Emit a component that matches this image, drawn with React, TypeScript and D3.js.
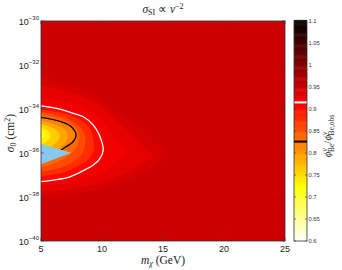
import React from "react";
import * as d3 from "d3";

// ---- data (m in GeV, log10 sigma in cm^2) ----
const xTicks = [5, 10, 15, 20, 25];
const yTickExps = [-30, -32, -34, -36, -38, -40];
const cbTicks = [0.6, 0.65, 0.7, 0.75, 0.8, 0.85, 0.9, 0.95, 1, 1.05, 1.1];
const backgroundValue = 0.95;

const band094: [number, number][] = [[4,-32.4],[5,-32.5],[6.5,-32.75],[8.2,-33.05],[9.8,-33.55],[11.1,-34.1],[12.7,-34.7],[14.3,-35.5],[15.4,-36.1],[14.3,-36.6],[12.7,-37.1],[11.1,-37.45],[8.5,-37.8],[6.5,-38.0],[5,-38.05],[4,-38.05]];
const band093: [number, number][] = [[4,-32.85],[5,-32.9],[6.5,-33.1],[8.2,-33.4],[9.8,-33.85],[11,-34.4],[12.3,-35.1],[13.6,-35.8],[14.2,-36.1],[13.4,-36.45],[12,-36.9],[10.5,-37.25],[8.5,-37.55],[6.5,-37.7],[5,-37.75],[4,-37.75]];
const band092: [number, number][] = [[4,-33.4],[5,-33.45],[6.5,-33.6],[8.2,-33.85],[9.6,-34.3],[10.5,-34.85],[11.3,-35.5],[12.0,-36.0],[11.3,-36.35],[10.3,-36.8],[8.5,-37.2],[6.5,-37.42],[5,-37.48],[4,-37.48]];
const whiteContour: [number, number][] = [[4,-33.82],[5,-33.86],[6.56,-34.01],[7.65,-34.2],[8.47,-34.35],[9.29,-34.73],[9.78,-35.18],[10.1,-35.86],[9.84,-36.24],[9.29,-36.55],[8.47,-36.8],[7.38,-37.08],[6,-37.23],[5,-37.3],[4,-37.32]];
const band088: [number, number][] = [[4,-33.97],[5,-34.02],[6.5,-34.15],[7.6,-34.34],[8.5,-34.6],[9.1,-35.0],[9.3,-35.45],[9.3,-35.9],[8.9,-36.3],[8.0,-36.6],[7,-36.85],[6,-36.98],[5,-37.05],[4,-37.05]];
const band0855: [number, number][] = [[4,-34.1],[5,-34.14],[6.3,-34.28],[7.4,-34.5],[8.2,-34.82],[8.6,-35.2],[8.6,-35.7],[8.2,-36.15],[7.3,-36.5],[6.3,-36.72],[5,-36.85],[4,-36.85]];
const band0835: [number, number][] = [[4,-34.2],[5,-34.24],[6.2,-34.38],[7.3,-34.6],[8.0,-34.95],[8.15,-35.3],[7.9,-35.75],[7.3,-36.1],[6.4,-36.4],[5,-36.65],[4,-36.65]];
const blackContour: [number, number][] = [[4,-34.33],[5,-34.38],[6.64,-34.58],[7.46,-34.8],[7.87,-35.18],[7.6,-35.5],[7.05,-35.72],[6.3,-36.0],[5.5,-36.3],[5,-36.45],[4,-36.5]];
const band079: [number, number][] = [[4,-34.5],[5,-34.53],[6,-34.68],[6.9,-34.92],[7.2,-35.2],[7.0,-35.52],[6.4,-35.85],[5.6,-36.1],[5,-36.2],[4,-36.2]];
const band076: [number, number][] = [[4,-34.65],[5,-34.68],[5.8,-34.82],[6.4,-35.05],[6.5,-35.32],[6.1,-35.6],[5.4,-35.85],[5,-35.95],[4,-35.95]];
const band0735: [number, number][] = [[4,-34.82],[5,-34.84],[5.6,-35.0],[5.8,-35.22],[5.5,-35.45],[5,-35.6],[4,-35.6]];
const band0715: [number, number][] = [[4,-34.95],[5,-34.98],[5.3,-35.1],[5.25,-35.3],[5,-35.38],[4,-35.38]];

const bandShapes = [band094, band093, band092, whiteContour, band088, band0855, band0835, blackContour, band079, band076, band0735, band0715];
const bandValues = [0.942, 0.931, 0.92, 0.905, 0.88, 0.857, 0.837, 0.815, 0.79, 0.762, 0.737, 0.717];

const contourLevels = [0.915, 0.826];
const excludedRegion: [number, number][] = [[5,-35.59],[7.5,-35.99],[5,-36.51]];

// ---- colormap: flipped "hot" over [0.6, 1.1] ----
function hotFlip(v: number): string {
  const t = Math.max(0, Math.min(1, (v - 0.6) / 0.5));
  const s = 1 - t;
  const c = (x: number) => Math.round(255 * Math.max(0, Math.min(1, x)));
  return `rgb(${c(s / 0.375)},${c((s - 0.375) / 0.375)},${c((s - 0.75) / 0.25)})`;
}

const L = 41, R = 285, T = 21, B = 241;
const CBX0 = 294, CBX1 = 307;

export default function App() {
  const x = d3.scaleLinear().domain([5, 25]).range([L, R]);
  const y = d3.scaleLinear().domain([-40, -30]).range([B, T]);
  const cb = d3.scaleLinear().domain([0.6, 1.1]).range([B, T]);

  const closed = d3.line<[number, number]>().x(d => x(d[0])).y(d => y(d[1])).curve(d3.curveCatmullRomClosed.alpha(0.5));
  const open = d3.line<[number, number]>().x(d => x(d[0])).y(d => y(d[1])).curve(d3.curveCatmullRom.alpha(0.5));
  const poly = d3.line<[number, number]>().x(d => x(d[0])).y(d => y(d[1]));

  const cbSteps = d3.range(0.6, 1.1, 0.0025);
  const sans = "'Liberation Sans', Arial, sans-serif";
  const serif = "'Liberation Serif', 'Times New Roman', serif";
  const axisColor = "#333";

  return (
    <svg width={342} height={270} style={{ position: "absolute", left: 0, top: 0 }}>
      <rect width={342} height={270} fill="#fff" />
      <defs>
        <clipPath id="plotclip"><rect x={L} y={T} width={R - L} height={B - T} /></clipPath>
      </defs>
      <g clipPath="url(#plotclip)">
        <rect x={L} y={T} width={R - L} height={B - T} fill={hotFlip(backgroundValue)} />
        {bandShapes.map((pts, i) => (
          <path key={i} d={closed(pts) || ""} fill={hotFlip(bandValues[i])} />
        ))}
        <path d={open(whiteContour) || ""} fill="none" stroke="#fff" strokeWidth={1.3} />
        <path d={open(blackContour) || ""} fill="none" stroke="#000" strokeWidth={1.3} />
        <path d={(poly(excludedRegion) || "") + "Z"} fill="#88c8f0" />
      </g>
      {/* axes box */}
      <rect x={L} y={T} width={R - L} height={B - T} fill="none" stroke={axisColor} strokeWidth={0.8} />
      {xTicks.map(t => (
        <g key={t}>
          <line x1={x(t)} x2={x(t)} y1={B} y2={B - 3} stroke={axisColor} strokeWidth={0.7} />
          <line x1={x(t)} x2={x(t)} y1={T} y2={T + 3} stroke={axisColor} strokeWidth={0.7} />
          <text x={x(t)} y={B + 11} textAnchor="middle" fontFamily={sans} fontSize={9} fill="#222">{t}</text>
        </g>
      ))}
      {yTickExps.map(e => (
        <g key={e}>
          <line x1={L} x2={L + 3} y1={y(e)} y2={y(e)} stroke={axisColor} strokeWidth={0.7} />
          <line x1={R} x2={R - 3} y1={y(e)} y2={y(e)} stroke={axisColor} strokeWidth={0.7} />
          <text x={39} y={y(e) + 3.5} textAnchor="end" fontFamily={sans} fontSize={9} fill="#222">
            10<tspan dy={-4.5} fontSize={6}>{"\u2212" + Math.abs(e)}</tspan>
          </text>
        </g>
      ))}
      {/* title */}
      <text x={(L + R) / 2} y={13} textAnchor="middle" fontFamily={serif} fontSize={11.5} fill="#222">
        <tspan fontStyle="italic">σ</tspan><tspan fontSize={8} dy={2}>SI</tspan><tspan dy={-2}> ∝ </tspan><tspan fontStyle="italic">v</tspan><tspan fontSize={8} dy={-4.5}>−2</tspan>
      </text>
      {/* x label */}
      <text x={(L + R) / 2} y={264} textAnchor="middle" fontFamily={serif} fontSize={11.5} fill="#222">
        <tspan fontStyle="italic">m</tspan><tspan fontStyle="italic" fontSize={8} dy={2}>χ</tspan><tspan dy={-2}> (GeV)</tspan>
      </text>
      {/* y label */}
      <text transform={`translate(14,${(T + B) / 2 + 2}) rotate(-90)`} textAnchor="middle" fontFamily={serif} fontSize={11.5} fill="#222">
        <tspan fontStyle="italic">σ</tspan><tspan fontSize={8} dy={2}>0</tspan><tspan dy={-2}> (cm</tspan><tspan fontSize={8} dy={-4.5}>2</tspan><tspan dy={4.5}>)</tspan>
      </text>
      {/* colorbar */}
      {cbSteps.map((v, i) => (
        <rect key={i} x={CBX0} y={cb(v + 0.0025)} width={CBX1 - CBX0} height={cb(v) - cb(v + 0.0025) + 0.5} fill={hotFlip(v + 0.00125)} />
      ))}
      <rect x={CBX0} y={cb(contourLevels[0]) - 1} width={CBX1 - CBX0} height={2} fill="#fff" />
      <rect x={CBX0} y={cb(contourLevels[1]) - 1} width={CBX1 - CBX0} height={2} fill="#000" />
      <rect x={CBX0} y={T} width={CBX1 - CBX0} height={B - T} fill="none" stroke={axisColor} strokeWidth={0.8} />
      {cbTicks.map(t => (
        <g key={t}>
          <line x1={CBX1} x2={CBX1 - 2} y1={cb(t)} y2={cb(t)} stroke={axisColor} strokeWidth={0.6} />
          <line x1={CBX0} x2={CBX0 + 2} y1={cb(t)} y2={cb(t)} stroke={axisColor} strokeWidth={0.6} />
          <text x={CBX1 + 1.5} y={cb(t) + 2} fontFamily={sans} fontSize={5.8} fill="#333">{t}</text>
        </g>
      ))}
      <text transform={`translate(331,${(T + B) / 2 + 5}) rotate(-90)`} textAnchor="middle" fontFamily={serif} fontSize={11} fill="#333">
        <tspan fontStyle="italic">ϕ</tspan><tspan fontStyle="italic" fontSize={7.5} dy={-4}>ν</tspan><tspan fontSize={7.5} dx={-3.8} dy={7}>Be</tspan><tspan dy={-3}>/</tspan><tspan fontStyle="italic">ϕ</tspan><tspan fontStyle="italic" fontSize={7.5} dy={-4}>ν</tspan><tspan fontSize={7.5} dx={-3.8} dy={7}>Be,obs</tspan>
      </text>
    </svg>
  );
}
